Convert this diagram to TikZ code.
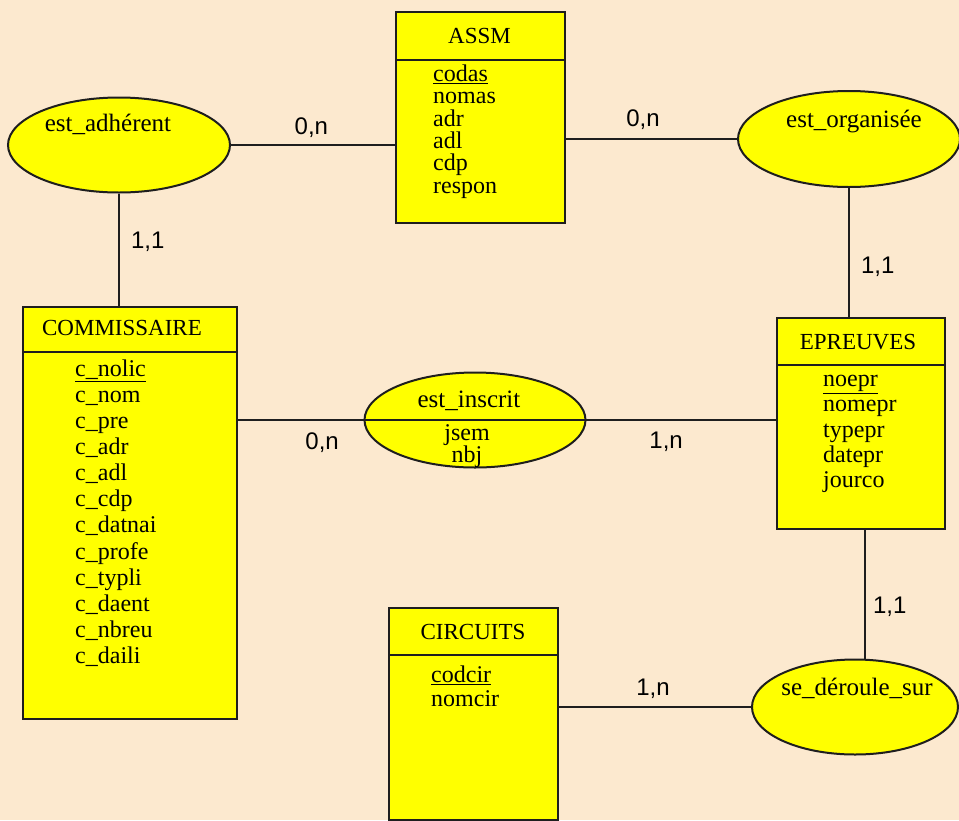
\documentclass[tikz,border=0pt]{standalone}
\usepackage{fontspec}
\setmainfont{Liberation Serif}
\newfontfamily\cardfont{Liberation Sans}
\usetikzlibrary{shapes.geometric}
\definecolor{bgtan}{RGB}{252,233,207}
\definecolor{boxyellow}{RGB}{255,255,0}
\definecolor{linegray}{RGB}{30,30,30}
\tikzset{
  entity/.style={draw=linegray, fill=boxyellow, line width=2pt, anchor=north west, inner sep=0pt},
  assoc/.style={ellipse, draw=linegray, fill=boxyellow, line width=2pt, inner sep=0pt},
  ttl/.style={font=\fontsize{23}{25}\selectfont, inner sep=0pt},
  etxt/.style={font=\fontsize{25}{27}\selectfont, inner sep=0pt},
  attrs/.style={font=\fontsize{24}{#1}\selectfont, align=left, anchor=north west, inner sep=0pt},
  card/.style={font=\cardfont\fontsize{24}{26}\selectfont, inner sep=2pt},
  link/.style={draw=linegray, line width=2pt}
}
\begin{document}
\begin{tikzpicture}[x=1pt,y=-1pt]
\useasboundingbox (0,0) rectangle (959,820);
\fill[bgtan] (0,0) rectangle (959,820);

\node[entity, minimum width=169pt, minimum height=211pt] (ASSM) at (395,11) {};
\node[entity, minimum width=214pt, minimum height=412pt] (COMM) at (22,306) {};
\node[entity, minimum width=168pt, minimum height=211pt] (EPR) at (776,317) {};
\node[entity, minimum width=169pt, minimum height=212pt] (CIRC) at (388,607) {};

\draw[link] ([yshift=-49pt]ASSM.north west) -- ([yshift=-49pt]ASSM.north east);
\draw[link] ([yshift=-46pt]COMM.north west) -- ([yshift=-46pt]COMM.north east);
\draw[link] ([yshift=-48pt]EPR.north west) -- ([yshift=-48pt]EPR.north east);
\draw[link] ([yshift=-48pt]CIRC.north west) -- ([yshift=-48pt]CIRC.north east);

\node[ttl] (ASSM-t) at (479.5,36) {ASSM};
\node[ttl] (COMM-t) at (122,328) {COMMISSAIRE};
\node[ttl] (EPR-t) at (858,342) {EPREUVES};
\node[ttl] (CIRC-t) at (473,632) {CIRCUITS};

\node[attrs=22.4pt] (ASSM-a) at (433,64.5) {\underline{codas}\\nomas\\adr\\adl\\cdp\\respon};
\node[attrs=26.1pt] (COMM-a) at (75,359.5) {\underline{c\_nolic}\\c\_nom\\c\_pre\\c\_adr\\c\_adl\\c\_cdp\\c\_datnai\\c\_profe\\c\_typli\\c\_daent\\c\_nbreu\\c\_daili};
\node[attrs=25.3pt] (EPR-a) at (823,375) {\underline{noepr}\\nomepr\\typepr\\datepr\\jourco};
\node[attrs=24pt] (CIRC-a) at (431,665.5) {\underline{codcir}\\nomcir};

\node[assoc, minimum width=222pt, minimum height=95pt] (adh) at (119,145) {};
\node[assoc, minimum width=222pt, minimum height=96pt] (org) at (849,139) {};
\node[assoc, minimum width=221pt, minimum height=95pt] (inscrit) at (475,420) {};
\node[assoc, minimum width=206pt, minimum height=95pt] (deroule) at (855,707) {};

\node[etxt, anchor=base] (adh-t) at (108,131) {est\_adhérent};
\node[etxt, anchor=base] (org-t) at (854,127) {est\_organisée};
\node[etxt, anchor=base] (inscrit-t) at (469,407) {est\_inscrit};
\node[etxt, align=center, anchor=north, font=\fontsize{24}{20}\selectfont] (inscrit-a) at (467,424) {jsem\\nbj};
\node[etxt, anchor=base] (deroule-t) at (857,695) {se\_déroule\_sur};

\draw[link] (inscrit.west) -- (inscrit.east);

\draw[link] (adh.east) -- (adh.east -| ASSM.west)
     node[card, pos=0.49, above=4pt] {0,n};
\draw[link] (org.west -| ASSM.east) -- (org.west)
     node[card, pos=0.45, above=6pt] {0,n};
\draw[link] (adh.south) -- (adh.south |- COMM.north)
     node[card, pos=0.43, right=9pt] {1,1};
\draw[link] (org.south) -- (org.south |- EPR.north)
     node[card, pos=0.61, right=9pt] {1,1};
\draw[link] (inscrit.west -| COMM.east) -- (inscrit.west)
     node[card, pos=0.67, below=9.5pt] {0,n};
\draw[link] (inscrit.east) -- (inscrit.east -| EPR.west)
     node[card, pos=0.42, below=9pt] {1,n};
\draw[link] ([xshift=4pt]EPR.south) -- ([xshift=4pt]EPR.south |- deroule.north)
     node[card, pos=0.60, right=5pt] {1,1};
\draw[link] (deroule.west -| CIRC.east) -- (deroule.west)
     node[card, pos=0.49, above=5pt] {1,n};
\end{tikzpicture}
\end{document}
